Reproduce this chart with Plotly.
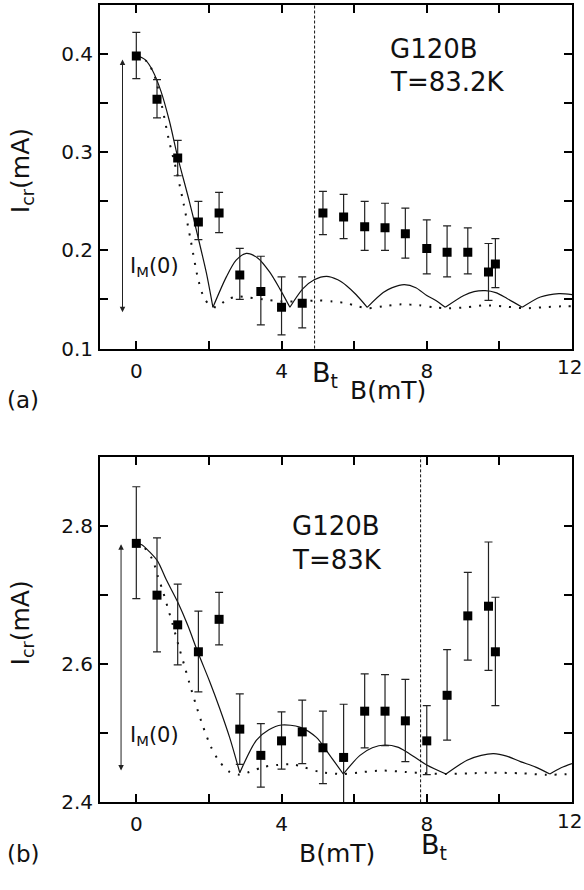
import plotly.graph_objects as go

# ---------------- data : panel (a) ----------------
B_pts = [0, 0.57, 1.14, 1.71, 2.28, 2.85, 3.43, 4.0, 4.57, 5.14, 5.71, 6.29, 6.85, 7.41, 8.0, 8.56, 9.13, 9.70, 9.89]

Ia_val = [0.398, 0.354, 0.294, 0.229, 0.238, 0.175, 0.158, 0.142, 0.146, 0.238, 0.234, 0.224, 0.223, 0.217, 0.202, 0.198, 0.198, 0.178, 0.186]
Ia_hi = [0.422, 0.374, 0.312, 0.250, 0.259, 0.202, 0.194, 0.173, 0.173, 0.260, 0.257, 0.250, 0.248, 0.243, 0.231, 0.225, 0.223, 0.207, 0.212]
Ia_lo = [0.375, 0.335, 0.276, 0.211, 0.218, 0.150, 0.124, 0.114, 0.121, 0.216, 0.212, 0.200, 0.200, 0.192, 0.176, 0.173, 0.176, 0.149, 0.162]

# solid fit (a): lobes separated by None
solid_a_B = [0, 0.25, 0.45, 0.68, 0.91, 1.14, 1.46, 1.69, 1.93, 2.11, None,
             2.11, 2.48, 2.75, 3.03, 3.35, 3.67, 3.95, 4.23, None,
             4.23, 4.59, 4.9, 5.24, 5.55, 5.79, 6.05, 6.36, None,
             6.36, 6.80, 7.05, 7.38, 7.7, 8.0, 8.25, 8.51, None,
             8.51, 9.02, 9.3, 9.61, 9.9, 10.21, 10.63, None,
             10.63, 11.13, 11.64, 12.0]
solid_a_I = [0.399, 0.394, 0.383, 0.362, 0.332, 0.295, 0.250, 0.215, 0.177, 0.142, None,
             0.142, 0.173, 0.190, 0.197, 0.192, 0.178, 0.161, 0.142, None,
             0.142, 0.161, 0.170, 0.1735, 0.170, 0.164, 0.155, 0.142, None,
             0.142, 0.157, 0.162, 0.165, 0.162, 0.154, 0.149, 0.142, None,
             0.142, 0.154, 0.158, 0.159, 0.157, 0.151, 0.142, None,
             0.142, 0.1525, 0.156, 0.155]

dot_a_B = [0, 0.3, 0.5, 0.7, 0.9, 1.1, 1.3, 1.5, 1.7, 1.85, 2.0, 2.2, 2.5, 2.8, 3.1, 3.5, 4.0, 4.5,
           5.0, 5.4, 5.8, 6.1, 6.4, 6.8, 7.3, 7.8, 8.2, 8.6, 9.1, 9.6, 10.1, 10.7, 11.2, 11.7, 12]
dot_a_I = [0.399, 0.392, 0.378, 0.348, 0.312, 0.282, 0.248, 0.210, 0.171, 0.153, 0.145, 0.142, 0.150,
           0.153, 0.152, 0.150, 0.148, 0.148, 0.149, 0.148, 0.146, 0.143, 0.141, 0.143, 0.145, 0.144,
           0.142, 0.141, 0.142, 0.144, 0.143, 0.141, 0.142, 0.143, 0.143]

BT_A = 4.91
ARROW_A = (-0.38, 0.396, 0.137)

# ---------------- data : panel (b) ----------------
Ib_val = [2.775, 2.700, 2.657, 2.618, 2.665, 2.506, 2.468, 2.489, 2.502, 2.479, 2.465, 2.532, 2.532, 2.518, 2.489, 2.555, 2.670, 2.684, 2.618]
Ib_hi = [2.857, 2.783, 2.716, 2.677, 2.704, 2.557, 2.514, 2.531, 2.548, 2.532, 2.542, 2.586, 2.585, 2.578, 2.540, 2.621, 2.733, 2.777, 2.697]
Ib_lo = [2.695, 2.618, 2.599, 2.560, 2.628, 2.455, 2.422, 2.448, 2.456, 2.427, 2.385, 2.479, 2.482, 2.459, 2.440, 2.490, 2.606, 2.591, 2.540]

solid_b_B = [0, 0.15, 0.36, 0.59, 0.82, 1.14, 1.42, 1.69, 2.02, 2.29, 2.57, 2.85, None,
             2.85, 3.31, 3.65, 4.0, 4.5, 4.96, 5.33, 5.70, None,
             5.70, 6.16, 6.5, 6.85, 7.2, 7.45, 8.0, 8.53, None,
             8.53, 9.11, 9.5, 9.84, 10.2, 10.58, 11.0, 11.39, None,
             11.39, 11.7, 12.0]
solid_b_I = [2.775, 2.773, 2.763, 2.749, 2.723, 2.690, 2.656, 2.618, 2.575, 2.537, 2.494, 2.443, None,
             2.443, 2.490, 2.505, 2.512, 2.509, 2.494, 2.468, 2.441, None,
             2.441, 2.468, 2.479, 2.483, 2.480, 2.473, 2.454, 2.441, None,
             2.441, 2.461, 2.468, 2.4705, 2.467, 2.459, 2.451, 2.441, None,
             2.441, 2.450, 2.456]

dot_b_B = [0, 0.2, 0.45, 0.59, 0.73, 0.86, 1.0, 1.19, 1.33, 1.46, 1.65, 1.83, 2.06, 2.29, 2.57, 2.85, 3.12,
           3.49, 3.86, 4.3, 4.6, 5.06, 5.7, 6.25, 6.8, 7.4, 8.0, 8.53, 9.17, 9.8, 10.6, 11.3, 12]
dot_b_I = [2.775, 2.770, 2.751, 2.728, 2.706, 2.683, 2.658, 2.622, 2.597, 2.573, 2.540, 2.511, 2.480, 2.459,
           2.444, 2.440, 2.444, 2.451, 2.454, 2.455, 2.451, 2.444, 2.441, 2.444, 2.446, 2.444, 2.442, 2.441,
           2.442, 2.443, 2.442, 2.440, 2.441]

BT_B = 7.83
ARROW_B = (-0.42, 2.776, 2.446)

# x tick labels 0, 4, 8 come from the axis; the last one ("12") sits at the
# right edge of the page and is drawn as an annotation so that it stays inside.
x_major = [0, 4, 8]
x_last_label = "12"
x_minor = [2, 6, 10, 12]
ya_major = [0.1, 0.2, 0.3, 0.4]
ya_minor = [0.15, 0.25, 0.35, 0.45]
yb_major = [2.4, 2.6, 2.8]
yb_minor = [2.5, 2.7, 2.9]

INK = "#111111"
FONT = "DejaVu Sans"
TICK_SIZE = 20

fig = go.Figure()


def add_panel(xa, ya, sB, sI, dB, dI, val, hi, lo):
    fig.add_trace(go.Scatter(x=dB, y=dI, mode="lines", xaxis=xa, yaxis=ya,
                             line=dict(color=INK, width=2, dash="2px,8px", shape="spline", smoothing=0.8),
                             hoverinfo="skip"))
    fig.add_trace(go.Scatter(x=sB, y=sI, mode="lines", xaxis=xa, yaxis=ya, connectgaps=False,
                             line=dict(color=INK, width=1.2, shape="spline", smoothing=0.8),
                             hoverinfo="skip"))
    up = [h - v for h, v in zip(hi, val)]
    dn = [v - l for v, l in zip(val, lo)]
    fig.add_trace(go.Scatter(x=B_pts, y=val, mode="markers", xaxis=xa, yaxis=ya,
                             marker=dict(symbol="square", size=9, color="black"),
                             error_y=dict(type="data", symmetric=False, array=up, arrayminus=dn,
                                          color="#222222", thickness=1.2, width=4)))


add_panel("x", "y", solid_a_B, solid_a_I, dot_a_B, dot_a_I, Ia_val, Ia_hi, Ia_lo)
add_panel("x2", "y2", solid_b_B, solid_b_I, dot_b_B, dot_b_I, Ib_val, Ib_hi, Ib_lo)

axis_common = dict(showline=True, linecolor="black", linewidth=2, mirror="ticks", ticks="inside",
                   ticklen=8, tickwidth=1.5, tickcolor="black", showgrid=False, zeroline=False,
                   tickmode="array",
                   tickfont=dict(size=TICK_SIZE, color=INK, family=FONT))
x_common = dict(range=[-1, 12], tickvals=x_major, ticklabelstandoff=3)


def minor(vals):
    return dict(tickmode="array", tickvals=vals, ticks="inside", ticklen=8, tickwidth=1.5,
                tickcolor="black", showgrid=False)


xdom = [100 / 584, 572 / 584]
fig.update_layout(
    width=584, height=890, margin=dict(l=0, r=0, t=0, b=0),
    paper_bgcolor="white", plot_bgcolor="white", showlegend=False,
    font=dict(family=FONT, color=INK),
    xaxis=dict(domain=xdom, anchor="y", minor=minor(x_minor), **x_common, **axis_common),
    yaxis=dict(domain=[1 - 353.3 / 890, 1 - 5 / 890], range=[0.1, 0.45], anchor="x",
               tickvals=ya_major, minor=minor(ya_minor), ticklabelstandoff=1, **axis_common),
    xaxis2=dict(domain=xdom, anchor="y2", minor=minor(x_minor), **x_common, **axis_common),
    yaxis2=dict(domain=[1 - 813.3 / 890, 1 - 463.3 / 890], range=[2.4, 2.9], anchor="x2",
                tickvals=yb_major, minor=minor(yb_minor), ticklabelstandoff=1, **axis_common),
)

shapes = []
for xr, yr, bt in (("x", "y domain", BT_A), ("x2", "y2 domain", BT_B)):
    shapes.append(dict(type="line", xref=xr, yref=yr, x0=bt, x1=bt, y0=0, y1=1,
                       line=dict(color=INK, width=1, dash="3px,2px")))
fig.update_layout(shapes=shapes)

ann = []
for xr, yr, (ax_, top, bot) in (("x", "y", ARROW_A), ("x2", "y2", ARROW_B)):
    ann.append(dict(x=ax_, y=bot, ax=ax_, ay=top, xref=xr, yref=yr, axref=xr, ayref=yr, text="",
                    showarrow=True, arrowhead=2, arrowside="end+start", arrowsize=1.1, arrowwidth=1,
                    arrowcolor="#222222", standoff=0, startstandoff=0))


def txt(text, x, y, size, xref="paper", yref="paper", xanchor="center", yanchor="middle", angle=0):
    ann.append(dict(text=text, x=x, y=y, xref=xref, yref=yref, xanchor=xanchor, yanchor=yanchor,
                    showarrow=False, textangle=angle, borderpad=0,
                    font=dict(size=size, color=INK, family=FONT)))


# panel (a) texts
txt(x_last_label, 583 / 584, 1 - 372 / 890, TICK_SIZE, xanchor="right")
txt("G120B", 6.97, 0.4053, 26, "x", "y", "left")
txt("T=83.2K", 6.97, 0.3717, 26, "x", "y", "left")
txt("I<sub>M</sub>(0)", -0.19, 0.1831, 21, "x", "y", "left")
txt("I<sub>cr</sub>(mA)", 22 / 584, 1 - 173.5 / 890, 25, angle=-90)
txt("B(mT)", 387.5 / 584, 1 - 396 / 890, 25)
txt("B<sub>t</sub>", 310.7 / 584, 1 - 361 / 890, 27, xanchor="left", yanchor="top")
txt("(a)", 23 / 584, 1 - 405 / 890, 23)

# panel (b) texts
txt(x_last_label, 583 / 584, 1 - 832 / 890, TICK_SIZE, xanchor="right")
txt("G120B", 4.26, 2.7996, 26, "x2", "y2", "left")
txt("T=83K", 4.26, 2.7515, 26, "x2", "y2", "left")
txt("I<sub>M</sub>(0)", -0.19, 2.4967, 21, "x2", "y2", "left")
txt("I<sub>cr</sub>(mA)", 22 / 584, 1 - 632 / 890, 25, angle=-90)
txt("B(mT)", 336.7 / 584, 1 - 865.5 / 890, 25)
txt("B<sub>t</sub>", 420 / 584, 1 - 839 / 890, 27, xanchor="left", yanchor="top")
txt("(b)", 23 / 584, 1 - 866 / 890, 23)

fig.update_layout(annotations=ann)

fig.write_html(
    "out.html",
    config={"displayModeBar": False},
    post_script=(
        "document.documentElement.style.margin='0px';"
        "document.body.style.margin='0px';"
        "document.documentElement.style.overflow='hidden';"
        "document.body.style.overflow='hidden';"
    ),
)
